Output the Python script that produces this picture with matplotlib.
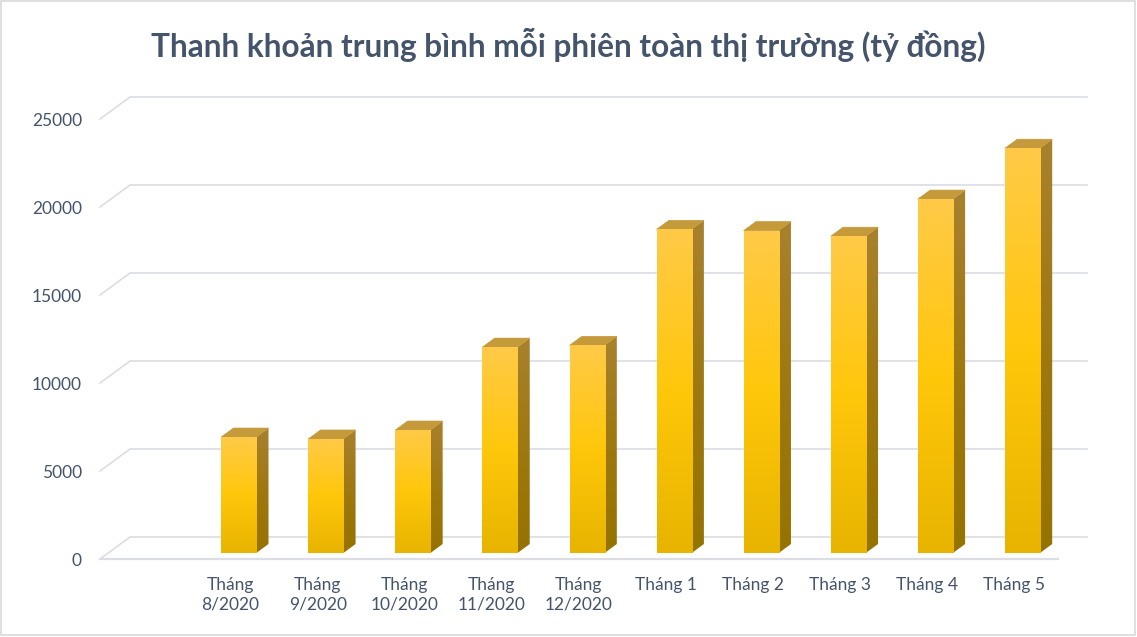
import numpy as np
import matplotlib
matplotlib.use('Agg')
import matplotlib.pyplot as plt
from matplotlib.patches import Polygon, Rectangle
from matplotlib.colors import LinearSegmentedColormap

# data
months = ['Tháng\n8/2020', 'Tháng\n9/2020', 'Tháng\n10/2020', 'Tháng\n11/2020', 'Tháng\n12/2020',
          'Tháng 1', 'Tháng 2', 'Tháng 3', 'Tháng 4', 'Tháng 5']
liquidity = [6590, 6480, 6990, 11700, 11800, 18390, 18320, 18000, 20110, 23000]
yticks = [0, 5000, 10000, 15000, 20000, 25000]

title = 'Thanh khoản trung bình mỗi phiên toàn thị trường (tỷ đồng)'
text_color = '#44546a'
grid_color = '#dcdde5'

plt.rcParams['font.family'] = ['Lato', 'DejaVu Sans']

W, H = 1137, 637
fig = plt.figure(figsize=(W / 100, H / 100), dpi=100)
fig.patch.set_facecolor('white')
fig.patches.append(Rectangle((0.5 / W, 2.5 / H), 1134.5 / W, 634 / H, transform=fig.transFigure,
                             fill=False, edgecolor='#d9d9d9', linewidth=1.2))

ax = fig.add_axes([100 / W, (H - 559) / H, 987 / W, 462 / H])
for s in ax.spines.values():
    s.set_visible(False)

# oblique depth offsets (x in category units, y in value units)
DX, DY = 0.3444, 1250

# floor / back wall gridlines
for v in yticks:
    ax.plot([-1.5, -1.5 + DX, 9.835], [v, v + DY, v + DY], color=grid_color, lw=1.2,
            clip_on=False, zorder=1, solid_joinstyle='miter')
ax.plot([-1.5, 9.5], [0, 0], color=grid_color, lw=1.6, clip_on=False, zorder=1)

front_cmap = LinearSegmentedColormap.from_list('front', ['#e8b400', '#ffc70a', '#ffca48'])
side_cmap = LinearSegmentedColormap.from_list('side', ['#957300', '#9e7810', '#a8812e'])
grad = np.linspace(0, 1, 256).reshape(-1, 1)

d0, d1 = 0.27, 0.68
hw = 0.201
for i, v in enumerate(liquidity):
    x0 = i - hw + d0 * DX
    x1 = i + hw + d0 * DX
    y0 = d0 * DY
    y1 = v + d0 * DY
    ox, oy = (d1 - d0) * DX, (d1 - d0) * DY
    # side face
    side = Polygon([(x1, y0), (x1 + ox, y0 + oy), (x1 + ox, y1 + oy), (x1, y1)],
                   closed=True, facecolor='none', edgecolor='none', zorder=3)
    ax.add_patch(side)
    im = ax.imshow(grad, cmap=side_cmap, origin='lower', aspect='auto',
                   extent=(x1, x1 + ox, y0, y1 + oy), zorder=3, interpolation='bilinear')
    im.set_clip_path(side)
    # top face
    ax.add_patch(Polygon([(x0, y1), (x1, y1), (x1 + ox, y1 + oy), (x0 + ox, y1 + oy)],
                         closed=True, facecolor='#c49a3a', edgecolor='#c49a3a', lw=0.5, zorder=4))
    # front face
    front = Rectangle((x0, y0), x1 - x0, y1 - y0, facecolor='none', edgecolor='none', zorder=5)
    ax.add_patch(front)
    im = ax.imshow(grad, cmap=front_cmap, origin='lower', aspect='auto',
                   extent=(x0, x1, y0, y1), zorder=5, interpolation='bilinear')
    im.set_clip_path(front)

ax.set_xlim(-1.5, 9.835)
ax.set_ylim(0, 26250)

ax.set_yticks(yticks)
ax.set_yticklabels([str(t) for t in yticks], fontsize=12.5, color=text_color)
ax.set_xticks(range(len(months)))
ax.set_xticklabels(months, fontsize=12.5, color=text_color, linespacing=1.3, va='top')
ax.tick_params(axis='y', length=0, pad=13)
ax.tick_params(axis='x', length=0, pad=13)

fig.text(0.5, 1 - 45 / H, title, ha='center', va='center', fontsize=22.8,
         fontweight='bold', color=text_color)

fig.savefig('out.png', dpi=100, facecolor='white')
